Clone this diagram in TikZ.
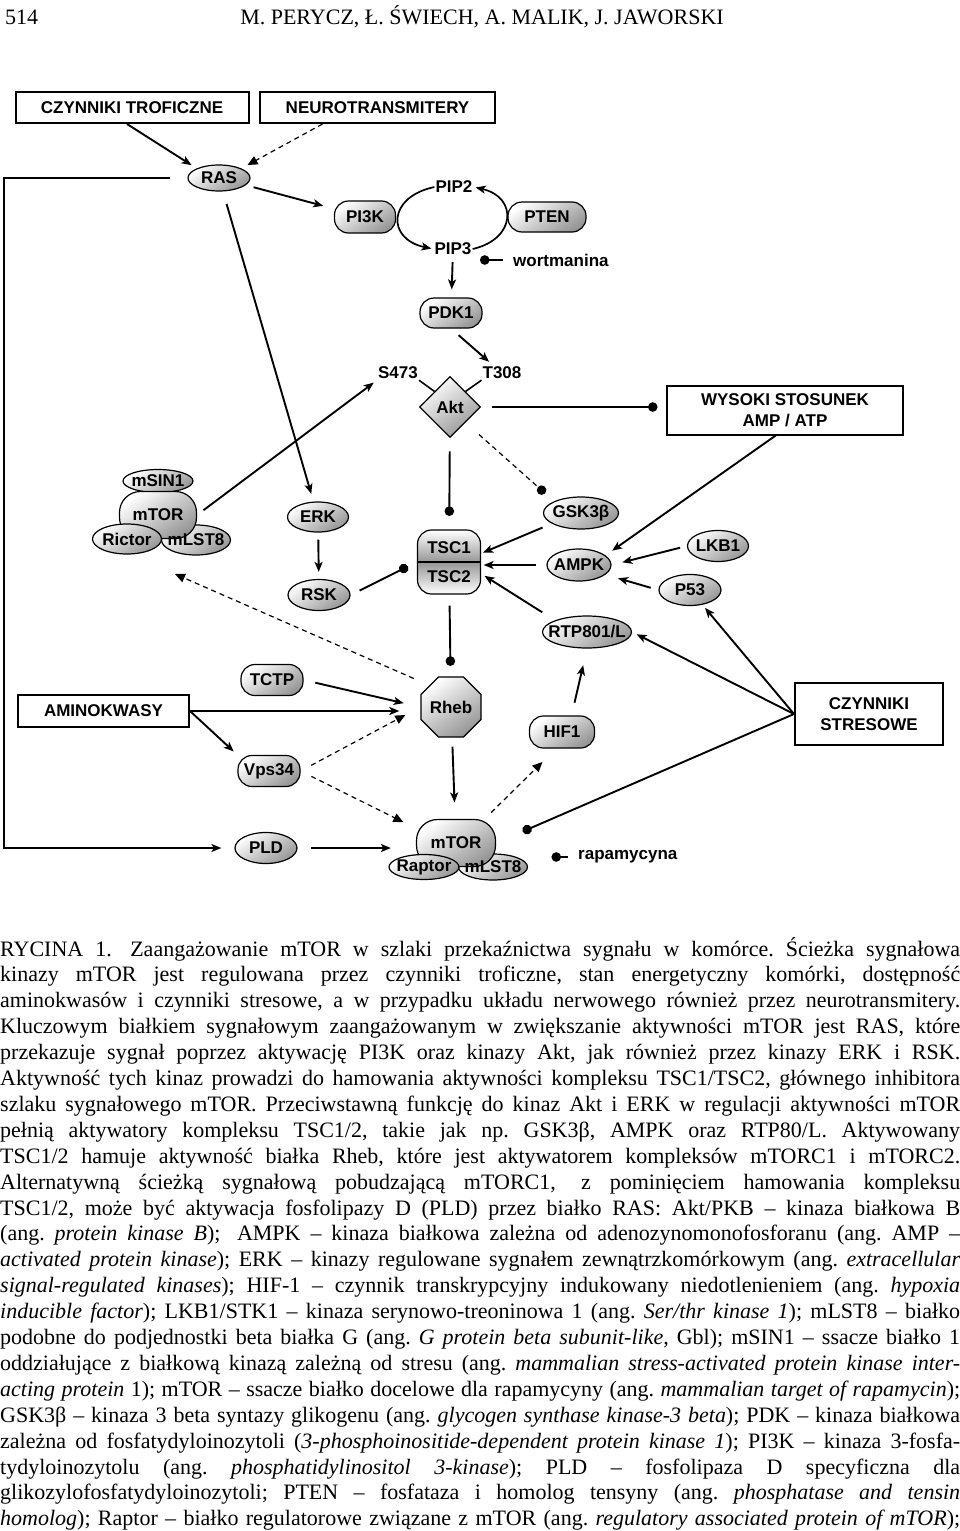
\documentclass[tikz,border=0pt]{standalone}
\usepackage{fontspec}
\setmainfont{Liberation Serif}
\newfontfamily\diagfont{Liberation Sans}
\usetikzlibrary{positioning, arrows.meta, shapes.geometric}

% one justified line of the caption
\newcommand{\capline}[1]{{\frenchspacing\spaceskip=0.25em plus 1em minus 0.1em\hbox to 960pt{#1}}}

\begin{document}
\begin{tikzpicture}[x=1pt, y=-1pt,
  lbl/.style={font=\diagfont\bfseries\fontsize{17}{21}\selectfont, inner sep=1pt, align=center},
  box/.style={lbl, draw, line width=2pt, fill=white},
  prot/.style={lbl, ellipse, draw, line width=1.2pt, inner xsep=-8pt, inner ysep=-2pt,
    top color=white, bottom color=protgray, shading angle=35},
  pill/.style={prot, rectangle, rounded corners=14pt, inner sep=1pt},
  blob/.style={prot, rectangle, rounded corners=21pt, inner sep=1pt},
  act/.style={line width=1.9pt, -{Stealth[length=10pt, width=8pt, inset=2.5pt]}},
  dact/.style={line width=1.2pt, dash pattern=on 5pt off 4pt, -{Triangle[length=10pt, width=9pt]}},
  inh/.style={line width=1.9pt, -{Circle[length=9.5pt]}},
  dinh/.style={line width=1.2pt, dash pattern=on 5pt off 4pt, -{Circle[length=9.5pt]}},
  capt/.style={anchor=base west, inner sep=0pt, font=\fontsize{22}{26}\selectfont}
]

% Define colors
\definecolor{protgray}{RGB}{150, 150, 150}

% Page
\fill[white] (0,0) rectangle (960,1531);
\useasboundingbox (0,0) rectangle (960,1531);

% Running head
\node[capt] (pagenum) at (5,24) {514};
\node[capt, anchor=base] (authors) at (482,24) {M. PERYCZ, Ł. ŚWIECH, A. MALIK, J. JAWORSKI};

% Draw the boxes
\node[box, minimum width=233pt, minimum height=31pt] (trof) at (132,107.5) {CZYNNIKI TROFICZNE};
\node[box, minimum width=235pt, minimum height=31pt] (neuro) at (377.5,107.5) {NEUROTRANSMITERY};
\node[box, minimum width=236pt, minimum height=49pt] (wys) at (785,410) {WYSOKI STOSUNEK\\AMP / ATP};
\node[box, minimum width=171pt, minimum height=32pt] (amino) at (103.5,711) {AMINOKWASY};
\node[box, minimum width=148pt, minimum height=62pt] (stress) at (869,714) {CZYNNIKI\\STRESOWE};

% Upper part
\node[prot, minimum width=62pt, minimum height=26pt] (ras) at (219,178) {RAS};
\node[pill, minimum width=61pt, minimum height=32pt] (pi3k) at (365,217) {PI3K};
\node[lbl] (pip2) at (454,187) {PIP2};
\node[lbl] (pip3) at (453,249) {PIP3};
\node[pill, minimum width=78pt, minimum height=30pt] (pten) at (547,217) {PTEN};
\node[lbl, anchor=west] (wort) at (512,260) {wortmanina};
\node[pill, minimum width=62pt, minimum height=30pt] (pdk1) at (451,313) {PDK1};
\node[lbl] (s473) at (398,373) {S473};
\node[lbl] (t308) at (502,373) {T308};
\node[prot, diamond, aspect=1, minimum width=61pt, minimum height=61pt, inner sep=0pt] (akt) at (450,407) {Akt};

% mTORC2
\node[prot, minimum width=70pt, minimum height=23pt] (msin1) at (158,481) {mSIN1};
\node[prot, minimum width=69pt, minimum height=30pt] (mlstb) at (196,540) {};
\node[blob, minimum width=77pt, minimum height=47pt] (mtorb) at (158,515) {mTOR};
\node[prot, minimum width=69pt, minimum height=30pt] (rictor) at (127,539) {Rictor};
\node[lbl] (mlstbtxt) at (mlstb) {mLST8};

% Middle part
\node[prot, minimum width=61pt, minimum height=30pt] (erk) at (318,517) {ERK};
\node[prot, minimum width=62pt, minimum height=31pt] (rsk) at (319,595) {RSK};
\node[draw, line width=1.2pt, rounded corners=14pt, minimum width=63pt, minimum height=64pt,
  top color=white, bottom color=white, middle color=protgray] (tsc) at (449,562) {};
\draw[line width=1.2pt] (tsc.west) -- (tsc.east);
\node[lbl] (tsc1) at (449,548) {TSC1};
\node[lbl] (tsc2) at (449,577) {TSC2};
\node[prot, minimum width=75pt, minimum height=32pt] (gsk) at (581,513) {GSK3β};
\node[prot, minimum width=64pt, minimum height=32pt] (ampk) at (579,565) {AMPK};
\node[prot, minimum width=61pt, minimum height=31pt] (lkb1) at (718,546) {LKB1};
\node[prot, minimum width=62pt, minimum height=31pt] (p53) at (690,590) {P53};
\node[prot, minimum width=89pt, minimum height=32pt] (rtp) at (587,632) {RTP801/L};

% Lower part
\node[pill, minimum width=62pt, minimum height=31pt] (tctp) at (272,680) {TCTP};
\node[prot, regular polygon, regular polygon sides=8, minimum size=58pt, inner sep=0pt] (rheb) at (451,707) {Rheb};
\node[pill, minimum width=65pt, minimum height=32pt] (hif1) at (562,732) {HIF1};
\node[pill, minimum width=62pt, minimum height=31pt] (vps) at (269,771) {Vps34};
\node[prot, minimum width=62pt, minimum height=31pt] (pld) at (266,848) {PLD};

% mTORC1
\node[prot, minimum width=69pt, minimum height=26pt] (mlsta) at (493,867) {};
\node[blob, minimum width=79pt, minimum height=47pt] (mtora) at (456,843) {mTOR};
\node[prot, minimum width=70pt, minimum height=25pt] (raptor) at (424,867) {Raptor};
\node[lbl] (mlstatxt) at (mlsta) {mLST8};
\node[lbl, anchor=west] (rapa) at (577,857) {rapamycyna};

\coordinate (corner) at (4,178);
\coordinate (c2tip) at (175,574);

% Draw the arrows
\draw[act, shorten >=6pt] ([xshift=-5pt]trof.south) -- (ras.north west);
\draw[dact, shorten >=7pt] ([xshift=-55pt]neuro.south) -- (ras.north east);
\draw[act, shorten <=8pt, shorten >=11pt] (ras) -- (pi3k);
\draw[act, shorten <=13pt, shorten >=8pt] (ras) -- (erk);
\draw[act, shorten >=13pt] ([xshift=-17pt]ras.west) -- (corner) |- (pld.west);
\draw[act, line width=1.7pt, shorten >=2pt] (pip2.west) .. controls +(-47,10) and +(-47,-10) .. (pip3.west);
\draw[act, line width=1.7pt, shorten >=2pt] (pip3.east) .. controls +(44,-10) and +(44,10) .. (pip2.east);
\draw[act, shorten <=6pt, shorten >=8pt] (pip3) -- (pdk1);
\draw[inh, shorten <=9pt, shorten >=27pt] (wort.west) -- (wort.west -| pip3.center);
\draw[act, shorten <=10pt, shorten >=6pt] (pdk1.south) -- (t308);
\draw[line width=1.6pt] (s473.south east) -- (akt.north west);
\draw[line width=1.6pt] (t308.south west) -- (akt.north east);
\draw[act, shorten <=8pt, shorten >=4pt] (mtorb.east) -- (s473.south west);
\draw[inh, shorten <=10.5pt, shorten >=8.5pt] (akt) -- (akt -| wys.west);
\draw[inh, shorten <=13.5pt, shorten >=13.5pt] (akt) -- (tsc);
\draw[dinh, shorten <=18pt, shorten >=12pt] (akt.south east) -- (gsk.north west);
\draw[act, shorten >=8pt] (wys.250) -- (ampk.20);
\draw[act, shorten <=7pt, shorten >=11pt] (lkb1.west) -- (ampk.east);
\draw[act, shorten <=8pt, shorten >=13pt] (p53.west) -- (ampk.-20);
\draw[act, shorten >=4pt] (stress.west) -- (p53.-50);
\draw[act, shorten >=5pt] (stress.west) -- (rtp.east);
\draw[inh, shorten >=29pt] (stress.west) -- (mtora.east);
\draw[act, shorten <=7pt, shorten >=7pt] (erk) -- (rsk);
\draw[inh, shorten <=10pt, shorten >=10pt] (rsk.east) -- (tsc.west);
\draw[act, shorten <=10pt, shorten >=2pt] (gsk.200) -- (tsc.15);
\draw[act, shorten <=10pt, shorten >=2.5pt] (ampk.west) -- (ampk.west -| tsc.east);
\draw[act, shorten <=15pt, shorten >=4pt] (rtp.160) -- (tsc.-20);
\draw[inh, shorten <=11pt, shorten >=10.5pt] (tsc) -- (rheb);
\draw[act, shorten <=9pt, shorten >=16.5pt] (rheb) -- (mtora);
\draw[dact, shorten <=17pt] (rheb.north west) -- (c2tip);
\draw[act, shorten <=12pt, shorten >=17pt] (tctp.east) -- (rheb.west);
\draw[act, shorten >=21pt] (amino) -- (amino -| rheb.west);
\draw[act, shorten >=5pt] (amino.east) -- (vps.north west);
\draw[dact, shorten <=12pt, shorten >=17pt] (vps.east) -- (rheb.west);
\draw[dact, shorten <=12pt, shorten >=14pt] (vps.east) -- (mtora.160);
\draw[act, shorten <=13pt, shorten >=25pt] (pld) -- (pld -| mtora.west);
\draw[dact, shorten <=9pt, shorten >=19pt] (mtora.40) -- (hif1.250);
\draw[act, shorten <=13pt, shorten >=17pt] (hif1.60) -- (rtp.south);
\draw[inh, shorten <=9pt, shorten >=58.5pt] (rapa.west) -- (rapa.west -| mlsta.center);

% Add the caption
\node[capt] (l1) at (0,956) {\capline{RYCINA 1.\hspace{0.3em} Zaangażowanie mTOR w szlaki przekaźnictwa sygnału w komórce. Ścieżka sygnałowa}};
\node[capt] (l2) at (0,981.9) {\capline{kinazy mTOR jest regulowana przez czynniki troficzne, stan energetyczny komórki, dostępność}};
\node[capt] (l3) at (0,1007.8) {\capline{aminokwasów i czynniki stresowe, a w przypadku układu nerwowego również przez neurotransmitery.}};
\node[capt] (l4) at (0,1033.7) {\capline{Kluczowym białkiem sygnałowym zaangażowanym w zwiększanie aktywności mTOR jest RAS, które}};
\node[capt] (l5) at (0,1059.6) {\capline{przekazuje sygnał poprzez aktywację PI3K oraz kinazy Akt, jak również przez kinazy ERK i RSK.}};
\node[capt] (l6) at (0,1085.5) {\capline{Aktywność tych kinaz prowadzi do hamowania aktywności kompleksu TSC1/TSC2, głównego inhibitora}};
\node[capt] (l7) at (0,1111.4) {\capline{szlaku sygnałowego mTOR. Przeciwstawną funkcję do kinaz Akt i ERK w regulacji aktywności mTOR}};
\node[capt] (l8) at (0,1137.3) {\capline{pełnią aktywatory kompleksu TSC1/2, takie jak np. GSK3β, AMPK oraz RTP80/L. Aktywowany}};
\node[capt] (l9) at (0,1163.2) {\capline{TSC1/2 hamuje aktywność białka Rheb, które jest aktywatorem kompleksów mTORC1 i mTORC2.}};
\node[capt] (l10) at (0,1189.1) {\capline{Alternatywną ścieżką sygnałową pobudzającą mTORC1,\hspace{0.3em} z pominięciem hamowania kompleksu}};
\node[capt] (l11) at (0,1215) {\capline{TSC1/2, może być aktywacja fosfolipazy D (PLD) przez białko RAS: Akt/PKB – kinaza białkowa B}};
\node[capt] (l12) at (0,1240.9) {\capline{(ang. \textit{protein kinase B});\hspace{0.3em} AMPK – kinaza białkowa zależna od adenozynomonofosforanu (ang. AMP –}};
\node[capt] (l13) at (0,1266.8) {\capline{\textit{activated protein kinase}); ERK – kinazy regulowane sygnałem zewnątrzkomórkowym (ang. \textit{extracellular}}};
\node[capt] (l14) at (0,1292.7) {\capline{\textit{signal-regulated kinases}); HIF-1 – czynnik transkrypcyjny indukowany niedotlenieniem (ang. \textit{hypoxia}}};
\node[capt] (l15) at (0,1318.6) {\capline{\textit{inducible factor}); LKB1/STK1 – kinaza serynowo-treoninowa 1 (ang. \textit{Ser/thr kinase 1}); mLST8 – białko}};
\node[capt] (l16) at (0,1344.5) {\capline{podobne do podjednostki beta białka G (ang. \textit{G protein beta subunit-like}, Gbl); mSIN1 – ssacze białko 1}};
\node[capt] (l17) at (0,1370.4) {\capline{oddziałujące z białkową kinazą zależną od stresu (ang. \textit{mammalian stress-activated protein kinase inter-}}};
\node[capt] (l18) at (0,1396.3) {\capline{\textit{acting protein} 1); mTOR – ssacze białko docelowe dla rapamycyny (ang. \textit{mammalian target of rapamycin});}};
\node[capt] (l19) at (0,1422.2) {\capline{GSK3β – kinaza 3 beta syntazy glikogenu (ang. \textit{glycogen synthase kinase-3 beta}); PDK – kinaza białkowa}};
\node[capt] (l20) at (0,1448.1) {\capline{zależna od fosfatydyloinozytoli (\textit{3-phosphoinositide-dependent protein kinase 1}); PI3K – kinaza 3-fosfa-}};
\node[capt] (l21) at (0,1474) {\capline{tydyloinozytolu (ang. \textit{phosphatidylinositol 3-kinase}); PLD – fosfolipaza D specyficzna dla}};
\node[capt] (l22) at (0,1499.9) {\capline{glikozylofosfatydyloinozytoli; PTEN – fosfataza i homolog tensyny (ang. \textit{phosphatase and tensin}}};
\node[capt] (l23) at (0,1525.8) {\capline{\textit{homolog}); Raptor – białko regulatorowe związane z mTOR (ang. \textit{regulatory associated protein of mTOR});}};

\end{tikzpicture}
\end{document}
